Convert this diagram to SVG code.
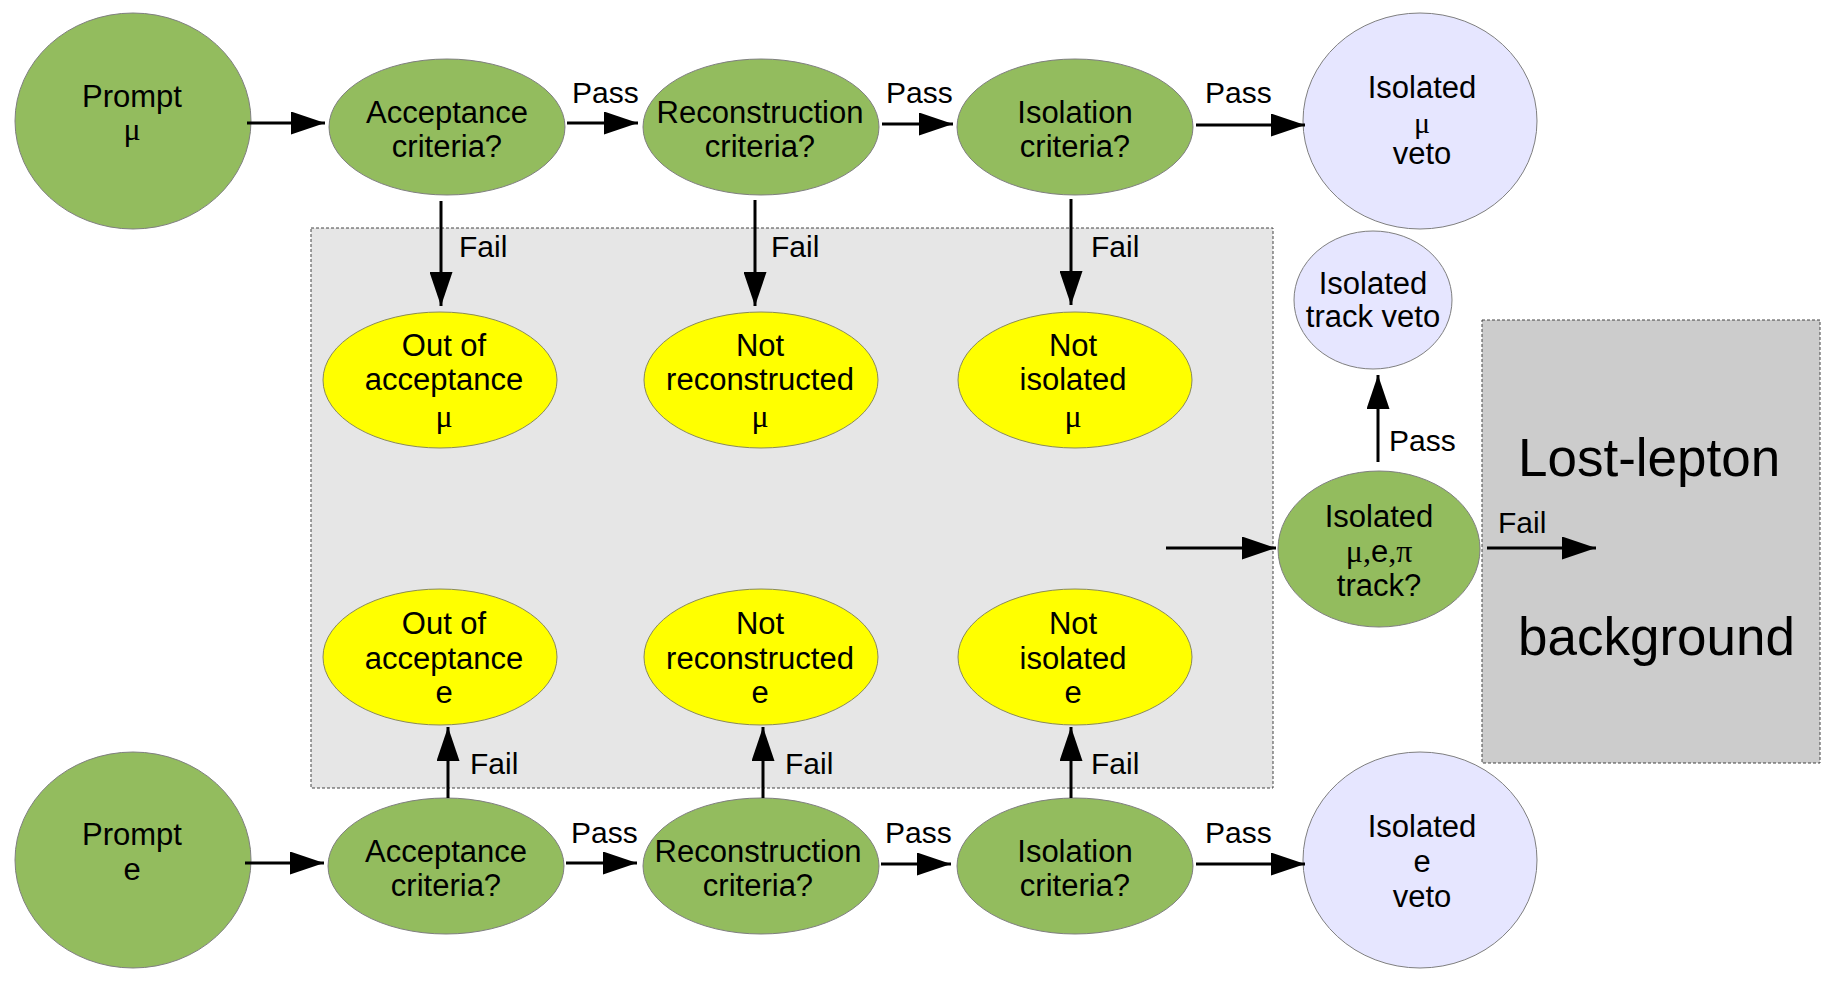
<svg xmlns="http://www.w3.org/2000/svg" width="1823" height="985" viewBox="0 0 1823 985">
<style>
.t{font-family:"Liberation Sans",Arial,sans-serif;font-size:31px;fill:#000;text-anchor:middle}
.l{font-family:"Liberation Sans",Arial,sans-serif;font-size:30px;fill:#000}
.g{font-family:"Liberation Serif","Times New Roman",serif;font-size:32px}
.big{font-family:"Liberation Sans",Arial,sans-serif;font-size:53px;fill:#000}
.green{fill:#93bc5e;stroke:#7f7f7f;stroke-width:1}
.yellow{fill:#ffff00;stroke:#8a8a5a;stroke-width:1}
.lav{fill:#e6e6ff;stroke:#7f7f7f;stroke-width:1}
.c{stroke:#000;stroke-width:3;fill:none;marker-end:url(#ah)}
</style>
<defs>
<marker id="ah" markerUnits="userSpaceOnUse" markerWidth="34" markerHeight="23" refX="34" refY="11.5" orient="auto">
<path d="M0,0 L34,11.5 L0,23 Z" fill="#000"/>
</marker>
</defs>
<rect width="1823" height="985" fill="#fff"/>
<g id="bkg-box">
<rect x="311" y="228" width="962" height="560" fill="#e6e6e6" stroke="#444" stroke-width="1" stroke-dasharray="3,2"/>
</g>
<g id="lost-lepton">
<rect x="1482" y="320" width="338" height="443" fill="#cccccc" stroke="#444" stroke-width="1" stroke-dasharray="3,2"/>
<text class="big" x="1518" y="476">Lost-lepton</text>
<text class="big" x="1518" y="655">background</text>
</g>
<g id="prompt-mu">
<ellipse class="green" cx="133" cy="121" rx="118" ry="108"/>
<text class="t" x="132" y="107">Prompt</text>
<text class="t g" x="132" y="140">μ</text>
</g>
<g id="acc-mu">
<ellipse class="green" cx="447" cy="127" rx="118" ry="68"/>
<text class="t" x="447" y="123">Acceptance</text>
<text class="t" x="447" y="157">criteria?</text>
</g>
<g id="rec-mu">
<ellipse class="green" cx="761" cy="127" rx="118" ry="68"/>
<text class="t" x="760" y="123">Reconstruction</text>
<text class="t" x="760" y="157">criteria?</text>
</g>
<g id="iso-mu">
<ellipse class="green" cx="1075" cy="127" rx="118" ry="68"/>
<text class="t" x="1075" y="123">Isolation</text>
<text class="t" x="1075" y="157">criteria?</text>
</g>
<g id="veto-mu">
<ellipse class="lav" cx="1420" cy="121" rx="117" ry="108"/>
<text class="t" x="1422" y="98">Isolated</text>
<text class="t g" x="1422" y="133" style="font-size:30px">μ</text>
<text class="t" x="1422" y="164">veto</text>
</g>
<g id="out-acc-mu">
<ellipse class="yellow" cx="440" cy="380" rx="117" ry="68"/>
<text class="t" x="444" y="356">Out of</text>
<text class="t" x="444" y="390">acceptance</text>
<text class="t g" x="444" y="427">μ</text>
</g>
<g id="not-rec-mu">
<ellipse class="yellow" cx="761" cy="380" rx="117" ry="68"/>
<text class="t" x="760" y="356">Not</text>
<text class="t" x="760" y="390">reconstructed</text>
<text class="t g" x="760" y="427">μ</text>
</g>
<g id="not-iso-mu">
<ellipse class="yellow" cx="1075" cy="380" rx="117" ry="68"/>
<text class="t" x="1073" y="356">Not</text>
<text class="t" x="1073" y="390">isolated</text>
<text class="t g" x="1073" y="427">μ</text>
</g>
<g id="out-acc-e">
<ellipse class="yellow" cx="440" cy="657" rx="117" ry="68"/>
<text class="t" x="444" y="634">Out of</text>
<text class="t" x="444" y="669">acceptance</text>
<text class="t" x="444" y="703">e</text>
</g>
<g id="not-rec-e">
<ellipse class="yellow" cx="761" cy="657" rx="117" ry="68"/>
<text class="t" x="760" y="634">Not</text>
<text class="t" x="760" y="669">reconstructed</text>
<text class="t" x="760" y="703">e</text>
</g>
<g id="not-iso-e">
<ellipse class="yellow" cx="1075" cy="657" rx="117" ry="68"/>
<text class="t" x="1073" y="634">Not</text>
<text class="t" x="1073" y="669">isolated</text>
<text class="t" x="1073" y="703">e</text>
</g>
<g id="track">
<ellipse class="green" cx="1379" cy="549" rx="101" ry="78"/>
<text class="t" x="1379" y="527">Isolated</text>
<text class="t" x="1379" y="562"><tspan class="g">μ,</tspan>e<tspan class="g">,π</tspan></text>
<text class="t" x="1379" y="596">track?</text>
</g>
<g id="track-veto">
<ellipse class="lav" cx="1373" cy="300" rx="79" ry="69"/>
<text class="t" x="1373" y="294">Isolated</text>
<text class="t" x="1373" y="327">track veto</text>
</g>
<g id="prompt-e">
<ellipse class="green" cx="133" cy="860" rx="118" ry="108"/>
<text class="t" x="132" y="845">Prompt</text>
<text class="t" x="132" y="880">e</text>
</g>
<g id="acc-e">
<ellipse class="green" cx="446" cy="866" rx="118" ry="68"/>
<text class="t" x="446" y="862">Acceptance</text>
<text class="t" x="446" y="896">criteria?</text>
</g>
<g id="rec-e">
<ellipse class="green" cx="761" cy="866" rx="118" ry="68"/>
<text class="t" x="758" y="862">Reconstruction</text>
<text class="t" x="758" y="896">criteria?</text>
</g>
<g id="iso-e">
<ellipse class="green" cx="1075" cy="866" rx="118" ry="68"/>
<text class="t" x="1075" y="862">Isolation</text>
<text class="t" x="1075" y="896">criteria?</text>
</g>
<g id="veto-e">
<ellipse class="lav" cx="1420" cy="860" rx="117" ry="108"/>
<text class="t" x="1422" y="837">Isolated</text>
<text class="t" x="1422" y="872">e</text>
<text class="t" x="1422" y="907">veto</text>
</g>
<g id="connectors">
<path class="c" d="M247,123 H325"/>
<path class="c" d="M567,123 H638"/>
<path class="c" d="M882,124 H953"/>
<path class="c" d="M1196,125 H1305"/>
<path class="c" d="M441,201 V306"/>
<path class="c" d="M755,200 V306"/>
<path class="c" d="M1071,199 V305"/>
<path class="c" d="M245,863 H324"/>
<path class="c" d="M566,863 H637"/>
<path class="c" d="M881,864 H951"/>
<path class="c" d="M1196,864 H1305"/>
<path class="c" d="M448,798 V727"/>
<path class="c" d="M763,798 V727"/>
<path class="c" d="M1071,798 V727"/>
<path class="c" d="M1166,548 H1276"/>
<path class="c" d="M1378,462 V375"/>
<path class="c" d="M1487,548 H1596"/>
<text class="l" x="572" y="103">Pass</text>
<text class="l" x="886" y="103">Pass</text>
<text class="l" x="1205" y="103">Pass</text>
<text class="l" x="459" y="257">Fail</text>
<text class="l" x="771" y="257">Fail</text>
<text class="l" x="1091" y="257">Fail</text>
<text class="l" x="571" y="843">Pass</text>
<text class="l" x="885" y="843">Pass</text>
<text class="l" x="1205" y="843">Pass</text>
<text class="l" x="470" y="774">Fail</text>
<text class="l" x="785" y="774">Fail</text>
<text class="l" x="1091" y="774">Fail</text>
<text class="l" x="1389" y="451">Pass</text>
<text class="l" x="1498" y="533">Fail</text>
</g>
</svg>
